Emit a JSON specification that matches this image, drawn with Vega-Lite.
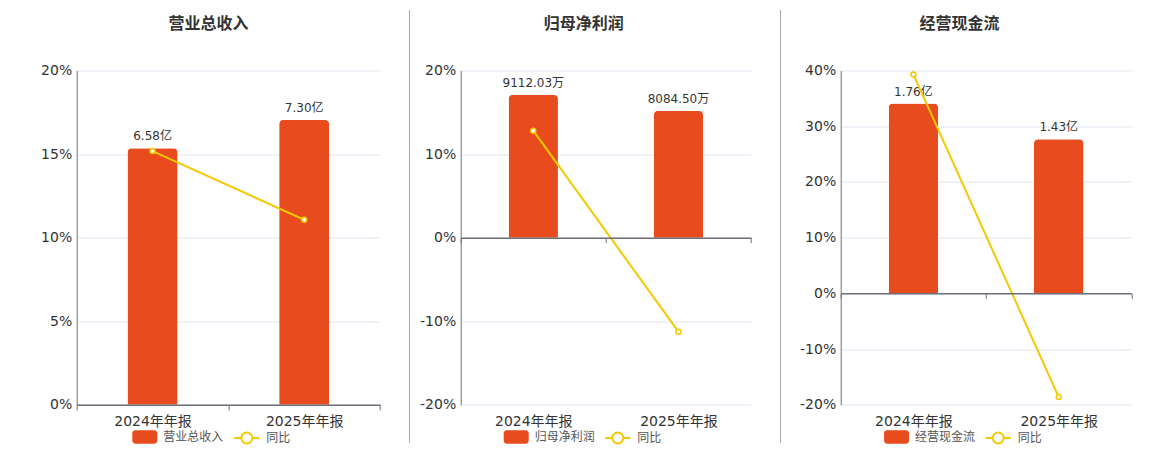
{
  "$schema": "https://vega.github.io/schema/vega-lite/v6.json",
  "background": "white",
  "autosize": {"type": "pad"},
  "padding": {"left": 36.7, "top": 8.5, "right": 25, "bottom": 5},
  "spacing": 5,
  "resolve": {"scale": {"fill": "independent", "stroke": "independent"}, "legend": {"fill": "independent", "stroke": "independent"}},
  "config": {
    "font": "DejaVu Sans, Noto Sans CJK SC",
    "view": {"stroke": null},
    "axis": {"labelFont": "DejaVu Sans, Noto Sans CJK SC", "labelFontSize": 14, "labelColor": "#333333", "domainColor": "#6E7079", "tickColor": "#6E7079", "gridColor": "#E0E6F1", "title": null},
    "title": {"font": "DejaVu Sans, Noto Sans CJK SC", "fontSize": 16, "fontWeight": "bold", "color": "#333333"},
    "legend": {"labelFont": "DejaVu Sans, Noto Sans CJK SC", "labelFontSize": 12, "labelColor": "#555555", "title": null, "orient": "none", "symbolSize": 625, "labelOffset": 6, "padding": 0}
  },
  "datasets": {
    "fin": [
      {"panel": "营业总收入", "period": "2024年年报", "value": 6.58, "label": "6.58亿", "yoy": 15.18},
      {"panel": "营业总收入", "period": "2025年年报", "value": 7.30, "label": "7.30亿", "yoy": 11.07},
      {"panel": "归母净利润", "period": "2024年年报", "value": 9112.03, "label": "9112.03万", "yoy": 12.80},
      {"panel": "归母净利润", "period": "2025年年报", "value": 8084.50, "label": "8084.50万", "yoy": -11.25},
      {"panel": "经营现金流", "period": "2024年年报", "value": 1.76, "label": "1.76亿", "yoy": 39.30},
      {"panel": "经营现金流", "period": "2025年年报", "value": 1.43, "label": "1.43亿", "yoy": -18.61}
    ],
    "edges": [
      {"edge": 1, "top": 1.1816, "bottom": -0.1137}
    ]
  },
  "hconcat": [
    {
      "width": 303.3, "height": 334.3,
      "title": {"text": "营业总收入", "frame": "bounds", "offset": 32},
      "data": {"name": "fin"},
      "transform": [{"filter": "datum.panel === '营业总收入'"}],
      "encoding": {
        "x": {"field": "period", "type": "nominal", "sort": null, "scale": {"paddingInner": 0, "paddingOuter": 0},
              "axis": {"title": null, "labelAngle": 0, "domainWidth": 1.5, "tickBand": "extent", "tickSize": 5, "offset": 0, "labelPadding": 5, "grid": false, "zindex": 1}}
      },
      "layer": [
        {"layer": [
          {"mark": {"type": "bar", "width": {"band": 0.33}, "cornerRadiusTopLeft": 4, "cornerRadiusTopRight": 4},
           "encoding": {
             "y": {"field": "value", "type": "quantitative", "scale": {"domain": [0, 8.57], "nice": false, "zero": true}, "axis": null},
             "fill": {"datum": "营业总收入", "scale": {"domain": ["营业总收入"], "range": ["#E84B1D"]},
               "legend": {"legendX": 55.6, "legendY": 354, "symbolType": "M-0.76,-0.54L0.76,-0.54A0.24,0.24,0,0,1,1,-0.3L1,0.3A0.24,0.24,0,0,1,0.76,0.54L-0.76,0.54A0.24,0.24,0,0,1,-1,0.3L-1,-0.3A0.24,0.24,0,0,1,-0.76,-0.54Z", "symbolStrokeWidth": 0}}
           }},
          {"mark": {"type": "text", "baseline": "bottom", "dy": -5, "fontSize": 12, "color": "#333333"},
           "encoding": {"y": {"field": "value", "type": "quantitative"}, "text": {"field": "label"}}}
        ]},
        {"layer": [
          {"mark": {"type": "line", "strokeWidth": 2},
           "encoding": {
             "y": {"field": "yoy", "type": "quantitative", "scale": {"domain": [0, 20], "nice": false},
                   "axis": {"orient": "left", "values": [0, 5, 10, 15, 20], "labelExpr": "datum.value + '%'", "ticks": false, "labelPadding": 5, "grid": true, "domain": true, "minExtent": 40, "title": null, "zindex": 0}},
             "stroke": {"datum": "同比", "scale": {"domain": ["同比"], "range": ["#F5C800"]},
               "legend": {"legendX": 156.6, "legendY": 354, "symbolType": "M-1,0L-0.44,0M0.44,0L1,0M-0.44,0A0.44,0.44,0,1,1,0.44,0A0.44,0.44,0,1,1,-0.44,0Z", "symbolStrokeWidth": 2, "symbolFillColor": "#ffffff"}}
           }},
          {"mark": {"type": "point", "filled": true, "fill": "#ffffff", "stroke": "#F5C800", "strokeWidth": 1.5, "size": 25, "opacity": 1},
           "encoding": {"y": {"field": "yoy", "type": "quantitative"}}}
        ]}
      ],
      "resolve": {"scale": {"y": "independent"}}
    },
    {
      "width": 23.8, "height": 334.3,
      "data": {"name": "edges"},
      "mark": {"type": "rule", "color": "#A8A8A8", "strokeWidth": 1},
      "encoding": {
        "x": {"field": "edge", "type": "quantitative", "scale": {"domain": [0, 1]}, "axis": null},
        "y": {"field": "top", "type": "quantitative", "scale": {"domain": [0, 1], "nice": false, "zero": false}, "axis": null},
        "y2": {"field": "bottom"}
      }
    },
    {
      "width": 290.3, "height": 334.3,
      "title": {"text": "归母净利润", "frame": "bounds", "offset": 32},
      "data": {"name": "fin"},
      "transform": [{"filter": "datum.panel === '归母净利润'"}],
      "encoding": {
        "x": {"field": "period", "type": "nominal", "sort": null, "scale": {"paddingInner": 0, "paddingOuter": 0},
              "axis": {"title": null, "labelAngle": 0, "domainWidth": 1.5, "tickBand": "extent", "tickSize": 5, "offset": -167.15, "labelPadding": 172.15, "grid": false, "zindex": 1}}
      },
      "layer": [
        {"layer": [
          {"mark": {"type": "bar", "width": {"band": 0.34}, "cornerRadiusTopLeft": 4, "cornerRadiusTopRight": 4},
           "encoding": {
             "y": {"field": "value", "type": "quantitative", "scale": {"domain": [-10670, 10670], "nice": false, "zero": true}, "axis": null},
             "fill": {"datum": "归母净利润", "scale": {"domain": ["归母净利润"], "range": ["#E84B1D"]},
               "legend": {"legendX": 43, "legendY": 354, "symbolType": "M-0.76,-0.54L0.76,-0.54A0.24,0.24,0,0,1,1,-0.3L1,0.3A0.24,0.24,0,0,1,0.76,0.54L-0.76,0.54A0.24,0.24,0,0,1,-1,0.3L-1,-0.3A0.24,0.24,0,0,1,-0.76,-0.54Z", "symbolStrokeWidth": 0}}
           }},
          {"mark": {"type": "text", "baseline": "bottom", "dy": -5, "fontSize": 12, "color": "#333333"},
           "encoding": {"y": {"field": "value", "type": "quantitative"}, "text": {"field": "label"}}}
        ]},
        {"layer": [
          {"mark": {"type": "line", "strokeWidth": 2},
           "encoding": {
             "y": {"field": "yoy", "type": "quantitative", "scale": {"domain": [-20, 20], "nice": false},
                   "axis": {"orient": "left", "values": [-20, -10, 0, 10, 20], "labelExpr": "datum.value + '%'", "ticks": false, "labelPadding": 5, "grid": true, "domain": true, "minExtent": 44.4, "title": null, "zindex": 0}},
             "stroke": {"datum": "同比", "scale": {"domain": ["同比"], "range": ["#F5C800"]},
               "legend": {"legendX": 143.6, "legendY": 354, "symbolType": "M-1,0L-0.44,0M0.44,0L1,0M-0.44,0A0.44,0.44,0,1,1,0.44,0A0.44,0.44,0,1,1,-0.44,0Z", "symbolStrokeWidth": 2, "symbolFillColor": "#ffffff"}}
           }},
          {"mark": {"type": "point", "filled": true, "fill": "#ffffff", "stroke": "#F5C800", "strokeWidth": 1.5, "size": 25, "opacity": 1},
           "encoding": {"y": {"field": "yoy", "type": "quantitative"}}}
        ]}
      ],
      "resolve": {"scale": {"y": "independent"}}
    },
    {
      "width": 23.8, "height": 334.3,
      "data": {"name": "edges"},
      "mark": {"type": "rule", "color": "#A8A8A8", "strokeWidth": 1},
      "encoding": {
        "x": {"field": "edge", "type": "quantitative", "scale": {"domain": [0, 1]}, "axis": null},
        "y": {"field": "top", "type": "quantitative", "scale": {"domain": [0, 1], "nice": false, "zero": false}, "axis": null},
        "y2": {"field": "bottom"}
      }
    },
    {
      "width": 290.7, "height": 334.3,
      "title": {"text": "经营现金流", "frame": "bounds", "offset": 32},
      "data": {"name": "fin"},
      "transform": [{"filter": "datum.panel === '经营现金流'"}],
      "encoding": {
        "x": {"field": "period", "type": "nominal", "sort": null, "scale": {"paddingInner": 0, "paddingOuter": 0},
              "axis": {"title": null, "labelAngle": 0, "domainWidth": 1.5, "tickBand": "extent", "tickSize": 5, "offset": -111.43, "labelPadding": 116.43, "grid": false, "zindex": 1}}
      },
      "layer": [
        {"layer": [
          {"mark": {"type": "bar", "width": {"band": 0.34}, "cornerRadiusTopLeft": 4, "cornerRadiusTopRight": 4},
           "encoding": {
             "y": {"field": "value", "type": "quantitative", "scale": {"domain": [-1.0335, 2.067], "nice": false, "zero": true}, "axis": null},
             "fill": {"datum": "经营现金流", "scale": {"domain": ["经营现金流"], "range": ["#E84B1D"]},
               "legend": {"legendX": 43.4, "legendY": 354, "symbolType": "M-0.76,-0.54L0.76,-0.54A0.24,0.24,0,0,1,1,-0.3L1,0.3A0.24,0.24,0,0,1,0.76,0.54L-0.76,0.54A0.24,0.24,0,0,1,-1,0.3L-1,-0.3A0.24,0.24,0,0,1,-0.76,-0.54Z", "symbolStrokeWidth": 0}}
           }},
          {"mark": {"type": "text", "baseline": "bottom", "dy": -5, "fontSize": 12, "color": "#333333"},
           "encoding": {"y": {"field": "value", "type": "quantitative"}, "text": {"field": "label"}}}
        ]},
        {"layer": [
          {"mark": {"type": "line", "strokeWidth": 2},
           "encoding": {
             "y": {"field": "yoy", "type": "quantitative", "scale": {"domain": [-20, 40], "nice": false},
                   "axis": {"orient": "left", "values": [-20, -10, 0, 10, 20, 30, 40], "labelExpr": "datum.value + '%'", "ticks": false, "labelPadding": 5, "grid": true, "domain": true, "minExtent": 54, "title": null, "zindex": 0}},
             "stroke": {"datum": "同比", "scale": {"domain": ["同比"], "range": ["#F5C800"]},
               "legend": {"legendX": 144, "legendY": 354, "symbolType": "M-1,0L-0.44,0M0.44,0L1,0M-0.44,0A0.44,0.44,0,1,1,0.44,0A0.44,0.44,0,1,1,-0.44,0Z", "symbolStrokeWidth": 2, "symbolFillColor": "#ffffff"}}
           }},
          {"mark": {"type": "point", "filled": true, "fill": "#ffffff", "stroke": "#F5C800", "strokeWidth": 1.5, "size": 25, "opacity": 1},
           "encoding": {"y": {"field": "yoy", "type": "quantitative"}}}
        ]}
      ],
      "resolve": {"scale": {"y": "independent"}}
    }
  ]
}
